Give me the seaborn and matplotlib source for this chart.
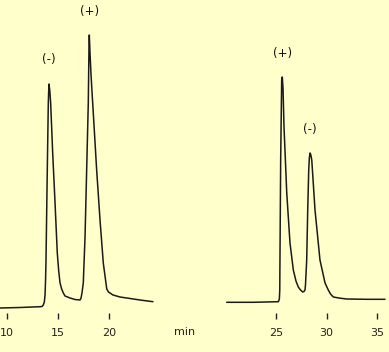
import matplotlib
matplotlib.use('Agg')
import matplotlib.pyplot as plt
import pandas as pd
import seaborn as sns

# first run: (-) enantiomer elutes first
time_a = [9.28, 11.25, 13.21, 13.40, 13.53, 13.63, 13.70, 13.75, 13.79, 13.92,
          14.02, 14.06, 14.09, 14.12, 14.17, 14.25, 14.45, 14.68, 14.90, 15.04,
          15.17, 15.33, 15.49, 15.66, 16.15, 16.64, 17.13, 17.23, 17.32, 17.45,
          17.62, 17.78, 17.94, 18.01, 18.04, 18.10, 18.20, 18.30, 18.43, 18.76,
          19.09, 19.41, 19.75, 19.92, 20.07, 20.36, 21.05, 21.71, 23.01, 24.28]
signal_a = [5, 5.5, 6.3, 6.5, 8, 11, 18, 33, 50, 143,
            210, 223, 229, 226, 222, 210, 160, 110, 60, 42,
            30, 24, 20, 17, 15, 13.5, 13, 15, 20, 30,
            76, 143, 210, 268, 278, 262, 240, 222, 200, 143,
            93, 50, 24, 21, 20, 18, 16, 15, 13, 11.3]

# second run: (+) enantiomer elutes first
time_b = [20.13, 22.73, 25.23, 25.33, 25.37, 25.39, 25.46, 25.56, 25.62, 25.69,
          25.79, 26.06, 26.38, 26.71, 26.97, 27.20, 27.42, 27.64, 27.76, 27.86,
          27.91, 28.03, 28.13, 28.23, 28.29, 28.36, 28.44, 28.53, 28.85, 29.34,
          29.84, 30.16, 30.38, 30.66, 31.32, 31.98, 33.95, 35.76]
signal_b = [10.7, 10.7, 11.3, 14, 23, 53, 153, 233, 236, 225,
            186, 120, 70, 43, 32, 26, 23, 21, 21.5, 23,
            28, 53, 103, 143, 155, 160, 158, 153, 103, 53,
            30, 23, 19, 16, 14.8, 14, 13.7, 13.7]

ticks_a = [10, 15, 20]
ticks_b = [25, 30, 35]
peaks_a = [(14.09, 229, '(-)'), (18.04, 278, '(+)')]
peaks_b = [(25.62, 236, '(+)'), (28.36, 160, '(-)')]

bg = '#ffffcc'
sns.set_style('ticks')
plt.rcParams['font.family'] = ['DejaVu Sans']

W, H = 389, 352
fig = plt.figure(figsize=(W / 100, H / 100), dpi=100, facecolor=bg)

def panel(x0, x1, tmin, tmax, t, s, ticks, peaks):
    ax = fig.add_axes([x0 / W, (H - 313) / H, (x1 - x0) / W, 313 / H])
    ax.set_facecolor(bg)
    df = pd.DataFrame({'t': t, 's': s})
    sns.lineplot(data=df, x='t', y='s', ax=ax, color='#1a1a1a', lw=1.1,
                 sort=False, estimator=None)
    ax.set_xlim(tmin, tmax)
    ax.set_ylim(0, 313)
    for sp in ax.spines.values():
        sp.set_visible(False)
    ax.set_xticks(ticks)
    ax.set_xticklabels([str(v) for v in ticks])
    ax.set_yticks([])
    ax.set_xlabel('')
    ax.set_ylabel('')
    ax.tick_params(axis='x', direction='out', length=4.5, width=1.0,
                   color='#222222', labelcolor='#222222', labelsize=8,
                   pad=6, bottom=True)
    for tl in ax.xaxis.get_ticklines():
        tl.set_clip_on(False)
    for tx, sy, lab in peaks:
        ax.text(tx, sy + 24, lab, ha='center', va='center', fontsize=8.5,
                color='#111111')
    return ax

panel(0, 160, 9.284, 24.97, time_a, signal_a, ticks_a, peaks_a)
panel(220, 389, 19.47, 36.155, time_b, signal_b, ticks_b, peaks_b)

fig.text(185 / W, 1 - 332 / H, 'min', ha='center', va='center', fontsize=8,
         color='#222222')

fig.savefig('out.png', dpi=100, facecolor=bg)
